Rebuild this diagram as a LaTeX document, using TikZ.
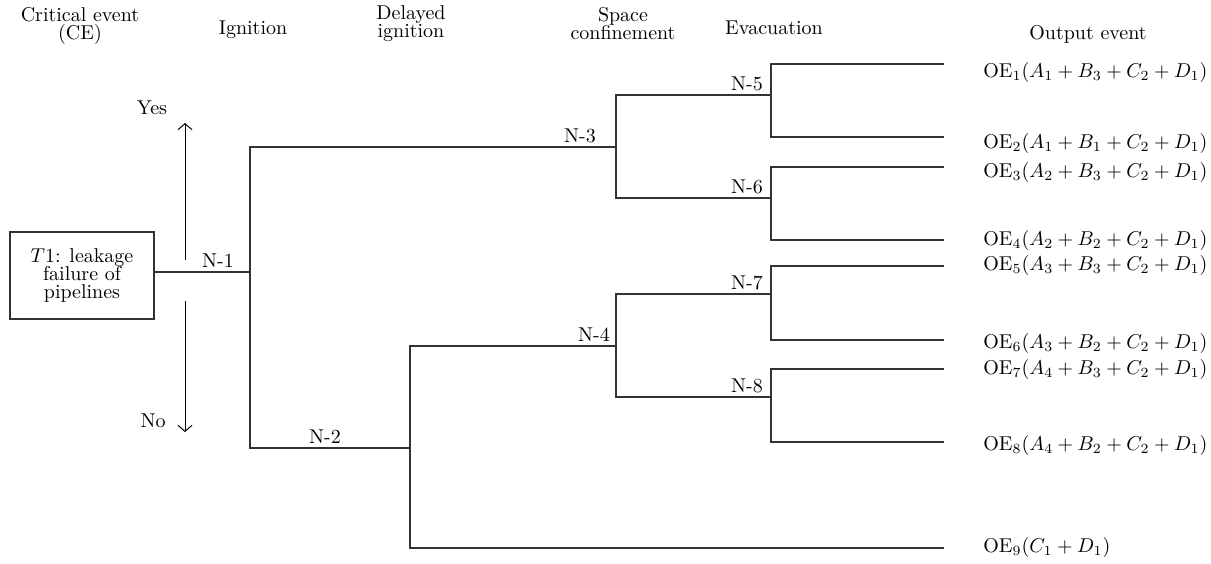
\documentclass[tikz,border=0pt]{standalone}
\usepackage{amsmath}
\usetikzlibrary{arrows.meta,positioning}

\begin{document}
\begin{tikzpicture}[>={Straight Barb[length=3pt,width=7pt]}, x=0.5pt, y=-0.5pt,
		font=\fontsize{10}{9.2}\selectfont,
		branch/.style={line width=0.55pt, draw=black!80},
		hdr/.style={align=center, anchor=north, inner sep=0pt},
		nlab/.style={anchor=south, inner sep=0pt},
		oelab/.style={anchor=west, inner sep=0pt},
		cebox/.style={draw=black!80, line width=0.55pt, minimum width=72pt, minimum height=43.5pt, align=center, inner sep=0pt}]
		\useasboundingbox (0,0) rectangle (1211,563);
		% headers
		\node[hdr] (hce) at (80,7) {Critical event\\(CE)};
		\node[hdr] (hign) at (253,20) {Ignition};
		\node[hdr] (hdel) at (411,5) {Delayed\\ignition};
		\node[hdr] (hspc) at (623,7) {Space\\confinement};
		\node[hdr] (hevc) at (774,20) {Evacuation};
		\node[hdr] (hout) at (1088,25) {Output event};
		% critical event
		\node[cebox] (ce) at (82,275.5) {$T$1: leakage\\failure of\\pipelines};
		% branch points
		\coordinate (n1) at (250,272);
		\coordinate (n2) at (410,448);
		\coordinate (n3) at (616,147);
		\coordinate (n4) at (616,346);
		\coordinate (n5) at (771,95);
		\coordinate (n6) at (771,198);
		\coordinate (n7) at (771,294);
		\coordinate (n8) at (771,397);
		% line ends
		\coordinate (e1) at (944,64);
		\coordinate (e2) at (944,137);
		\coordinate (e3) at (944,167);
		\coordinate (e4) at (944,240);
		\coordinate (e5) at (944,266);
		\coordinate (e6) at (944,340);
		\coordinate (e7) at (944,369);
		\coordinate (e8) at (944,442);
		\coordinate (e9) at (944,548);
		% tree
		\draw[branch] (ce.east |- n1) -- (n1);
		\draw[branch] (n3) -| (n1) |- (n2);
		\draw[branch] (n4) -| (n2) |- (e9);
		\draw[branch] (n5) -| (n3) |- (n6);
		\draw[branch] (n7) -| (n4) |- (n8);
		\draw[branch] (e1) -| (n5) |- (e2);
		\draw[branch] (e3) -| (n6) |- (e4);
		\draw[branch] (e5) -| (n7) |- (e6);
		\draw[branch] (e7) -| (n8) |- (e8);
		% node labels
		\node[nlab] (l1) at (218,268) {N-1};
		\node[nlab] (l2) at (325,444) {N-2};
		\node[nlab] (l3) at (580,143) {N-3};
		\node[nlab] (l4) at (594,342) {N-4};
		\node[nlab] (l5) at (747,91) {N-5};
		\node[nlab] (l6) at (747,194) {N-6};
		\node[nlab] (l7) at (747,290) {N-7};
		\node[nlab] (l8) at (747,393) {N-8};
		% yes / no
		\coordinate (ys) at (185,260);
		\coordinate (ye) at (185,123);
		\coordinate (ns) at (185,301);
		\coordinate (ne) at (185,432);
		\draw[->, line width=0.5pt] (ys) -- (ye);
		\draw[->, line width=0.5pt] (ns) -- (ne);
		\node (yes) at (152,108) {Yes};
		\node (no) at (153,421) {No};
		% output events
		\node[oelab] (oe1) at (983,72) {$\mathrm{OE}_1(A_1+B_3+C_2+D_1)$};
		\node[oelab] (oe2) at (983,143) {$\mathrm{OE}_2(A_1+B_1+C_2+D_1)$};
		\node[oelab] (oe3) at (983,172) {$\mathrm{OE}_3(A_2+B_3+C_2+D_1)$};
		\node[oelab] (oe4) at (983,240) {$\mathrm{OE}_4(A_2+B_2+C_2+D_1)$};
		\node[oelab] (oe5) at (983,265) {$\mathrm{OE}_5(A_3+B_3+C_2+D_1)$};
		\node[oelab] (oe6) at (983,343) {$\mathrm{OE}_6(A_3+B_2+C_2+D_1)$};
		\node[oelab] (oe7) at (983,369) {$\mathrm{OE}_7(A_4+B_3+C_2+D_1)$};
		\node[oelab] (oe8) at (983,445) {$\mathrm{OE}_8(A_4+B_2+C_2+D_1)$};
		\node[oelab] (oe9) at (983,547) {$\mathrm{OE}_9(C_1+D_1)$};
	\end{tikzpicture}
\end{document}
